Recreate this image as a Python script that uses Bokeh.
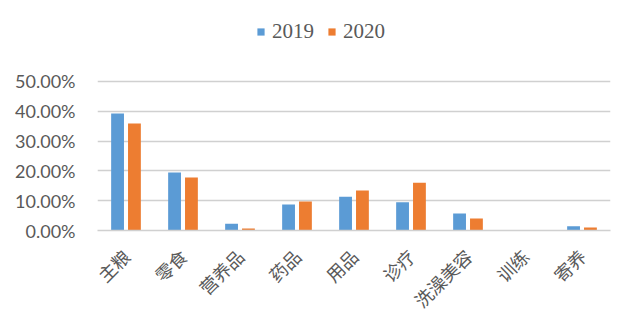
from bokeh.plotting import figure
from bokeh.models import (FactorRange, Range1d, FixedTicker, NumeralTickFormatter,
                          Legend, LegendItem, ColumnDataSource)
from bokeh.transform import dodge
from bokeh.embed import file_html
from bokeh.resources import INLINE

categories = ["主粮", "零食", "营养品", "药品", "用品", "诊疗", "洗澡美容", "训练", "寄养"]
series_names = ["2019", "2020"]
values_2019 = [0.393, 0.195, 0.023, 0.087, 0.113, 0.095, 0.057, 0.0, 0.014]
values_2020 = [0.359, 0.178, 0.007, 0.097, 0.134, 0.160, 0.040, 0.0, 0.010]
y_ticks = [0.0, 0.1, 0.2, 0.3, 0.4, 0.5]

blue = "#5B9BD5"
orange = "#ED7D31"

src = ColumnDataSource(dict(cat=categories, v19=values_2019, v20=values_2020))

# frame extends above the 50% line to leave room for the legend inside it
p = figure(width=618, height=331, x_range=FactorRange(*categories),
           y_range=Range1d(0, 0.7248), output_backend="svg", toolbar_location=None,
           min_border_left=97, min_border_right=8, min_border_top=14,
           min_border_bottom=101)

r1 = p.vbar(x=dodge("cat", -0.148, range=p.x_range), top="v19", width=0.225,
            source=src, fill_color=blue, line_color=None)
r2 = p.vbar(x=dodge("cat", 0.148, range=p.x_range), top="v20", width=0.225,
            source=src, fill_color=orange, line_color=None)

p.outline_line_color = None
p.xgrid.grid_line_color = None
p.ygrid.grid_line_color = "#D0D0D0"
p.ygrid.grid_line_width = 1.5
p.yaxis.ticker = FixedTicker(ticks=y_ticks)
p.yaxis.formatter = NumeralTickFormatter(format="0.00%")
p.yaxis.axis_line_color = None
p.yaxis.major_tick_line_color = None
p.yaxis.minor_tick_line_color = None
p.yaxis.major_label_text_font = "Lato"
p.yaxis.major_label_text_font_size = "18px"
p.yaxis.major_label_text_color = "#595959"
p.yaxis.major_label_standoff = 16

p.xaxis.axis_line_color = "#D0D0D0"
p.xaxis.axis_line_width = 1.5
p.xaxis.major_tick_line_color = None
p.xaxis.minor_tick_line_color = None
p.xaxis.major_label_orientation = 0.785
p.xaxis.major_label_text_font = "Noto Sans CJK SC"
p.xaxis.major_label_text_font_size = "18px"
p.xaxis.major_label_text_color = "#595959"
p.xaxis.major_label_standoff = 16

legend = Legend(items=[LegendItem(label=series_names[0], renderers=[r1]),
                       LegendItem(label=series_names[1], renderers=[r2])],
                orientation="horizontal", location=(159, 186),
                label_text_font="Liberation Serif", label_text_font_size="21px",
                label_text_color="#595959", glyph_width=9, glyph_height=9,
                spacing=13, label_standoff=7, background_fill_alpha=0,
                border_line_color=None, padding=0, margin=0)
p.add_layout(legend, "center")

open("out.html", "w").write(file_html(p, INLINE))
